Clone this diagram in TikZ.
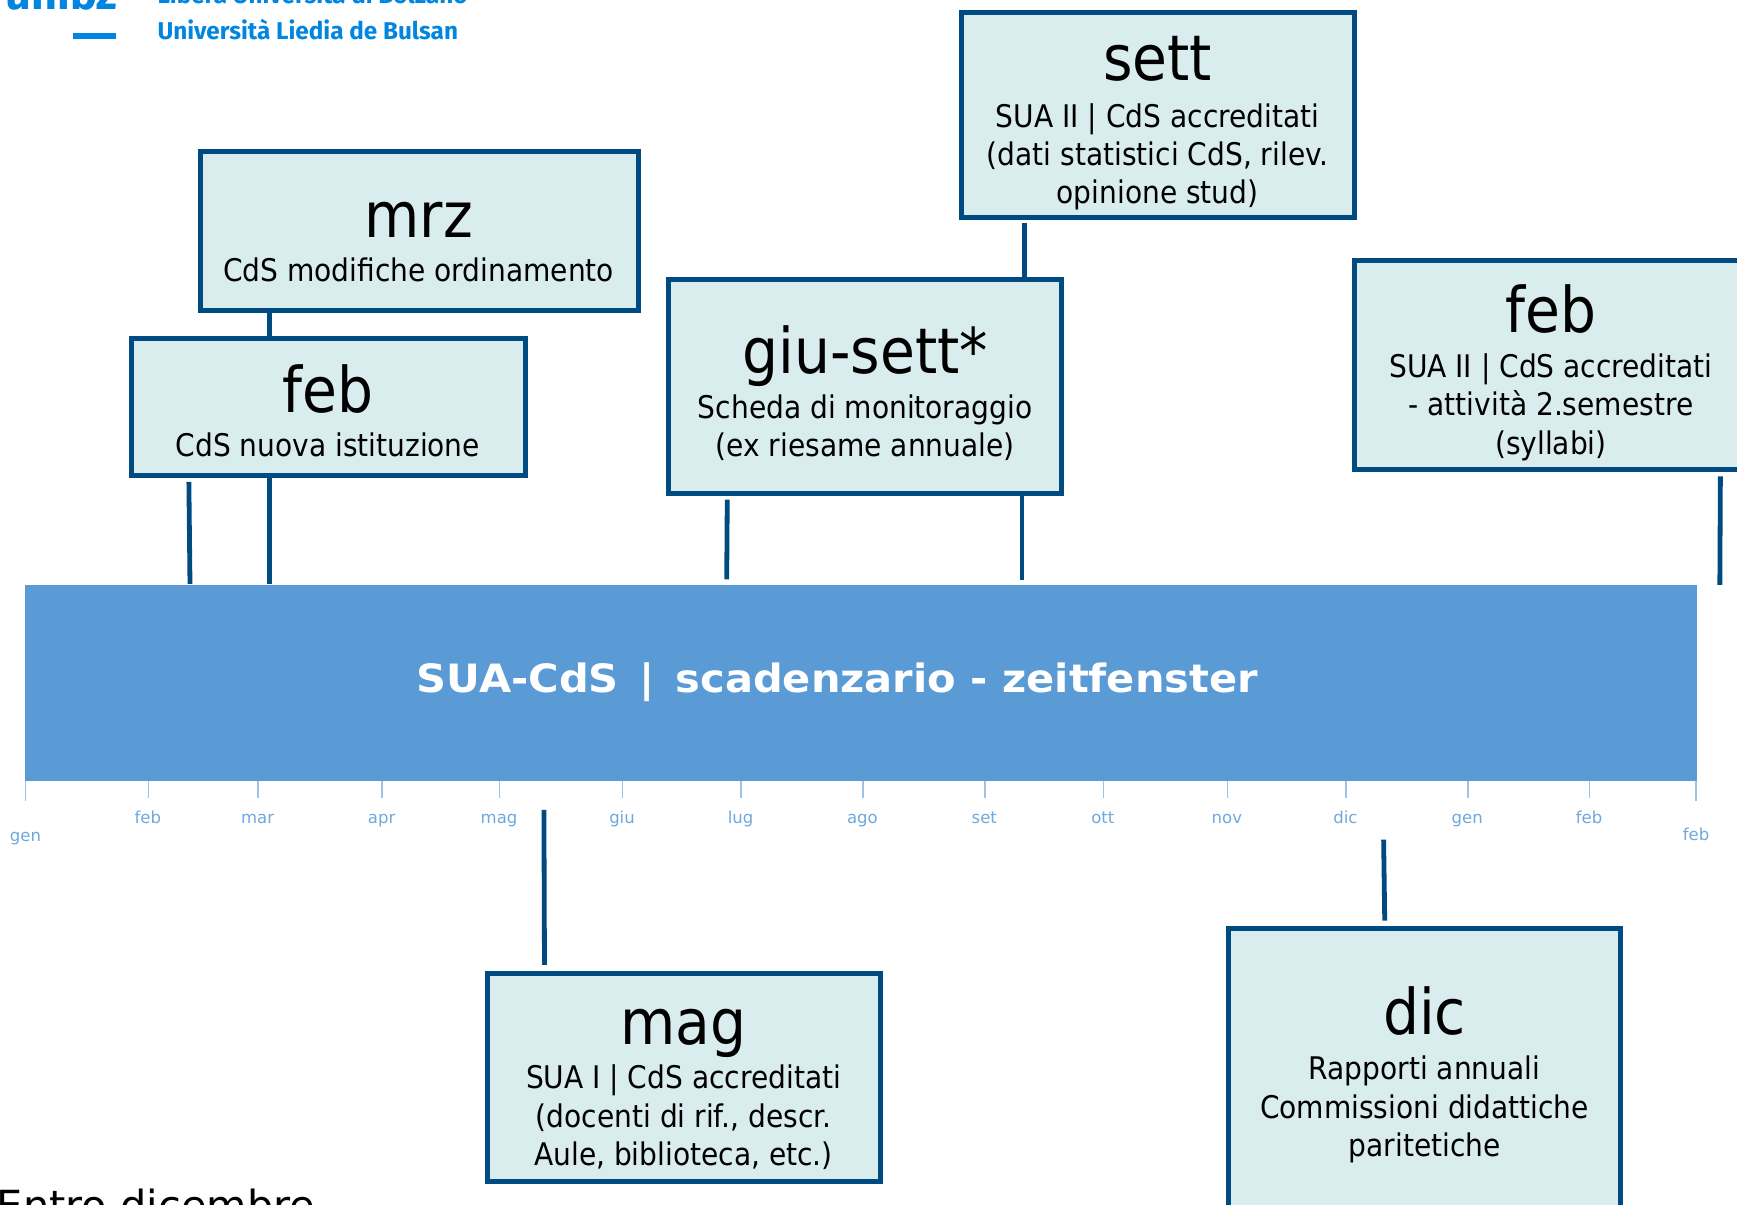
\documentclass[tikz,border=0pt]{standalone}
\usepackage{graphicx}
\usepackage{fontspec}
\setmainfont{DejaVu Sans Condensed}
\newfontfamily\wide{DejaVu Sans}
\newfontfamily\din{Fira Sans}
\definecolor{edge}{HTML}{004A82}
\definecolor{pale}{HTML}{DAEDEE}
\definecolor{barc}{HTML}{5B9BD5}
\definecolor{tick}{HTML}{9DC3E6}
\definecolor{lab}{HTML}{6FA8DC}
\definecolor{logo}{HTML}{0085E0}
\tikzset{
  card/.style={draw=edge,fill=pale,line width=5pt,inner sep=0pt},
  ttl/.style={anchor=base,inner sep=0pt,font=\fontsize{63}{63}\selectfont},
  bdy/.style={anchor=base,inner sep=0pt,align=center,font=\fontsize{31.2}{38.4}\selectfont},
  conn/.style={draw=edge,line width=4.8pt},
  tk/.style={draw=tick,line width=1.4pt},
  mon/.style={anchor=base,inner sep=0pt,text=lab,font=\wide\fontsize{16.5}{18}\selectfont},
}
\newcommand{\card}[5]{% name, x1,y1,x2,y2
  \node[card,rectangle,minimum width=(#4-#2)*1.1078pt-2pt,minimum height=(#5-#3)*1.1078pt-2pt] (#1) at ({(#2+#4)/2},{(#3+#5)/2}) {};}
\begin{document}
\begin{tikzpicture}[x=1.1078pt,y=-1.1078pt]
\useasboundingbox (0,0) rectangle (1568,1087.7);
\clip (0,0) rectangle (1568,1087.7);
% logo
\node[anchor=base west,inner sep=0pt,text=logo,font=\din\bfseries\fontsize{45}{46}\selectfont] (uni) at (5,9) {unibz};
\fill[logo] (66,29.5) rectangle (104.5,35);
\node[anchor=base west,inner sep=0pt,text=logo,font=\din\bfseries\fontsize{24.3}{26}\selectfont] (l1) at (142,3) {Libera Università di Bolzano};
\node[anchor=base west,inner sep=0pt,text=logo,font=\din\bfseries\fontsize{24.3}{26}\selectfont] (l2) at (142,36) {Università Liedia de Bulsan};
% bar
\fill[barc] (23,528) rectangle (1532,705);
\node[inner sep=0pt,text=white,font=\wide\bfseries\fontsize{39}{40}\selectfont] (bar) at (756,616) {\scalebox{1.066}[1]{SUA-CdS\,\,\,|\,\,\,scadenzario - zeitfenster}};
% ticks and months
\foreach \x/\m in {134/feb,233/mar,345/apr,451/mag,562/giu,669/lug,779/ago,889/set,996/ott,1108/nov,1215/dic,1325/gen,1435/feb}{
  \draw[tk] (\x,705) -- (\x,720);
  \node[mon] at (\x-0.5,743) {\m};
}
\draw[tk] (23,705) -- (23,723);
\draw[tk] (1531,705) -- (1531,723);
\node[mon] (m0) at (23,759.5) {gen};
\node[mon] (m1) at (1531,759) {feb};
% connector ends
\coordinate (a1) at (170.5,435); \coordinate (a2) at (171.5,527);
\coordinate (b2) at (243,527);
\coordinate (c1) at (656.5,451); \coordinate (c2) at (656,523);
\coordinate (d2) at (922.5,524);
\coordinate (e1) at (925,201);
\coordinate (f1) at (1553,430); \coordinate (f2) at (1552.5,528);
\coordinate (g1) at (491,731); \coordinate (g2) at (491.5,871);
\coordinate (h1) at (1249,758); \coordinate (h2) at (1250,831);
% cards
\card{mrz}{180}{136}{577}{281}
\card{feba}{118}{305}{475}{430}
\card{giu}{603}{251}{959}{446}
\card{sett}{867}{10}{1224}{197}
\card{febb}{1222}{234}{1579}{425}
\card{mag}{439}{878}{796}{1067}
\card{dic}{1108}{837}{1464}{1110}
% connectors
\draw[conn] (a1) -- (a2);
\draw[conn] (feba.south -| b2) -- (b2);
\draw[conn] (mrz.south -| b2) -- (feba.north -| b2);
\draw[conn] (c1) -- (c2);
\draw[conn] (giu.south -| d2) -- (d2);
\draw[conn] (e1) -- (giu.north -| e1);
\draw[conn] (f1) -- (f2);
\draw[conn] (g1) -- (g2);
\draw[conn] (h1) -- (h2);
% card texts
\node[ttl] (t1) at (378,214) {mrz};
\node[bdy] (b1) at (378,254) {CdS modifiche ordinamento};
\node[ttl] (t2) at (296,372) {feb};
\node[bdy] (b2t) at (296,412) {CdS nuova istituzione};
\node[ttl] (t3) at (781,337) {giu-sett*};
\node[bdy] (b3) at (781,412) {Scheda di monitoraggio\\(ex riesame annuale)};
\node[ttl] (t4) at (1045,73) {sett};
\node[bdy] (b4) at (1045,184) {SUA II | CdS accreditati\\(dati statistici CdS, rilev.\\opinione stud)};
\node[ttl] (t5) at (1400,300) {feb};
\node[bdy] (b5) at (1400,410) {SUA II | CdS accreditati\\- attività 2.semestre\\(syllabi)};
\node[ttl] (t6) at (617,943) {mag};
\node[bdy] (b6) at (617,1052) {SUA I | CdS accreditati\\(docenti di rif., descr.\\Aule, biblioteca, etc.)};
\node[ttl] (t7) at (1286,934) {dic};
\node[bdy] (b7) at (1286,1044) {Rapporti annuali\\Commissioni didattiche\\paritetiche};
\node[anchor=base west,inner sep=0pt,font=\wide\fontsize{41.5}{42}\selectfont] (entro) at (-3,1102) {Entro dicembre};
\end{tikzpicture}
\end{document}
